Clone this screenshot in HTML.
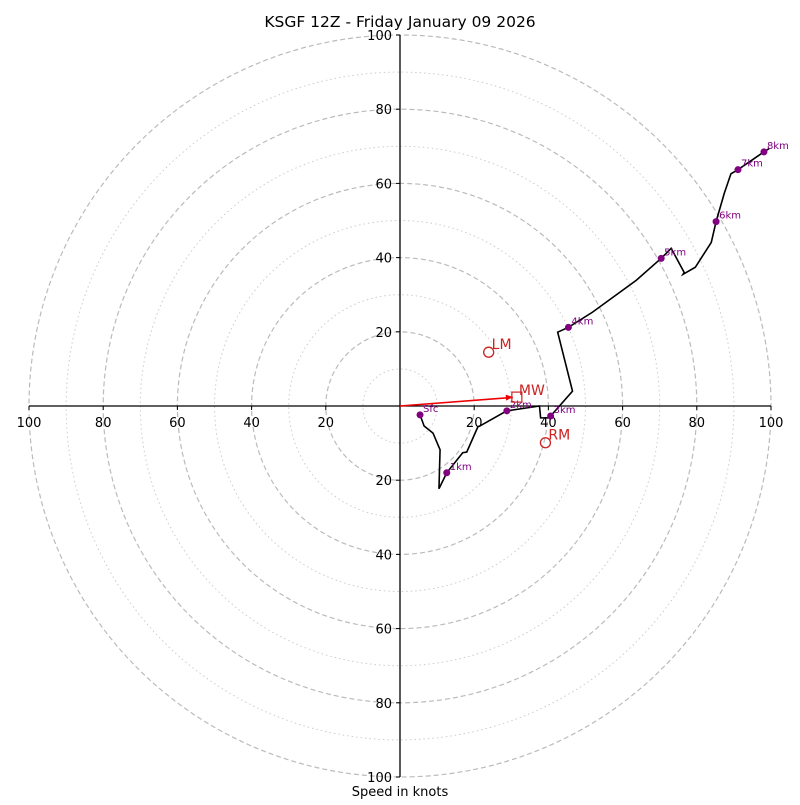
<!DOCTYPE html>
<html><head><meta charset="utf-8"><style>
body{margin:0;background:#fff}
text{font-family:"DejaVu Sans","Liberation Sans",sans-serif}
</style></head><body>
<svg id="c" width="800" height="800">
<rect width="800" height="800" fill="#fff"/>
<g id="rings"></g>
<g id="axes"></g>
<g id="trace"></g>
<text x="400" y="27" text-anchor="middle" font-size="15.5">KSGF 12Z - Friday January 09 2026</text>
<text x="400" y="796" text-anchor="middle" font-size="13">Speed in knots</text>
</svg>
<script>
const windU=[5.4,6.5,8.9,10.8,10.5,12.6,16.9,18.0,21.0,21.5,28.8,37.6,37.9,39.8,40.6,46.5,42.5,45.4,51.9,63.7,70.4,73.1,76.6,76.3,79.6,83.9,85.2,87.4,89.2,91.1,98.1,99.5];
const windV=[-2.4,-5.4,-7.3,-11.8,-22.3,-18.0,-12.6,-12.4,-5.6,-5.4,-1.3,0,-3.2,-3.2,-2.7,4.0,19.9,21.2,25.3,33.9,39.8,42.5,36.0,35.5,37.4,44.1,49.7,57.3,62.6,63.7,68.5,69.4];
const levelNames=["Sfc","1km","2km","3km","4km","5km","6km","7km","8km"];
const levelU=[5.4,12.6,28.8,40.6,45.4,70.4,85.2,91.1,98.1];
const levelV=[-2.4,-18.0,-1.3,-2.7,21.2,39.8,49.7,63.7,68.5];
const ringSpeeds=[10,20,30,40,50,60,70,80,90,100];
const tickLabels=[20,40,60,80,100];
const motionNames=["LM","RM"];
const motionU=[23.9,39.2];
const motionV=[14.5,-9.9];
const meanWind=[31.5,2.4];

const CX=400,CY=406,S=3.71;
const sx=u=>CX+u*S, sy=v=>CY-v*S;
const NS="http://www.w3.org/2000/svg";
function mk(tag,attrs,parent){const e=document.createElementNS(NS,tag);for(const k in attrs)e.setAttribute(k,attrs[k]);parent.appendChild(e);return e;}
const rings=document.getElementById('rings'),axes=document.getElementById('axes'),trace=document.getElementById('trace');
ringSpeeds.forEach(r=>{
  const c=mk('circle',{cx:CX,cy:CY,r:r*S,fill:'none',stroke:r%20==0?'#bbb':'#ccc','stroke-width':r%20==0?1.2:1,'stroke-dasharray':r%20==0?'5,3':'1.5,3'},rings);
  
  
});
const ax=mk('line',{x1:sx(-100),y1:CY,x2:sx(100),y2:CY,stroke:'#000','stroke-width':1.3},axes);


const ay=mk('line',{x1:CX,y1:sy(100),x2:CX,y2:sy(-100),stroke:'#000','stroke-width':1.3},axes);


tickLabels.forEach(t=>{
  [-1,1].forEach(s=>{
    const x=sx(s*t);
    mk('line',{x1:x,y1:CY,x2:x,y2:CY+4,stroke:'#000'},axes);
    const tx=mk('text',{x:x,y:CY+21,'text-anchor':'middle','font-size':13},axes);
    tx.textContent=t;
    
    
    const y=sy(s*t);
    mk('line',{x1:CX-4,y1:y,x2:CX,y2:y,stroke:'#000'},axes);
    const ty=mk('text',{x:CX-8,y:y+5,'text-anchor':'end','font-size':13},axes);
    ty.textContent=t;
    
    
  });
});
const pts=windU.map((u,i)=>sx(u)+','+sy(windV[i])).join(' ');
const pl=mk('polyline',{points:pts,fill:'none',stroke:'#000','stroke-width':1.6},trace);


levelNames.forEach((n,i)=>{
  const c=mk('circle',{cx:sx(levelU[i]),cy:sy(levelV[i]),r:3.5,fill:'#800080'},trace);
  
  
  const t=mk('text',{x:sx(levelU[i])+3,y:sy(levelV[i])-3,'font-size':10,fill:'#800080'},trace);
  t.textContent=n;
  
  
});
const mx=sx(meanWind[0]),my=sy(meanWind[1]);
const ar=mk('line',{x1:CX,y1:CY,x2:mx-4,y2:my+0.3,stroke:'#e00','stroke-width':1.6},trace);


const ang=Math.atan2(my-CY,mx-CX);
const hx=mx-4,hy=my;
mk('polygon',{points:`${hx},${hy} ${hx-7*Math.cos(ang)+3*Math.sin(ang)},${hy-7*Math.sin(ang)-3*Math.cos(ang)} ${hx-7*Math.cos(ang)-3*Math.sin(ang)},${hy-7*Math.sin(ang)+3*Math.cos(ang)}`,fill:'#e00'},trace);
const sq=mk('rect',{x:mx-5,y:my-5,width:10,height:10,fill:'none',stroke:'#c22','stroke-width':1.2},trace);


const mw=mk('text',{x:mx+2,y:my-2,'font-size':14,fill:'#c22'},trace);
mw.textContent='MW';


motionNames.forEach((n,i)=>{
  const c=mk('circle',{cx:sx(motionU[i]),cy:sy(motionV[i]),r:5,fill:'none',stroke:'#c22','stroke-width':1.3},trace);
  
  
  const t=mk('text',{x:sx(motionU[i])+3,y:sy(motionV[i])-3,'font-size':14,fill:'#c22'},trace);
  t.textContent=n;
  
  
});
</script>
</body></html>
